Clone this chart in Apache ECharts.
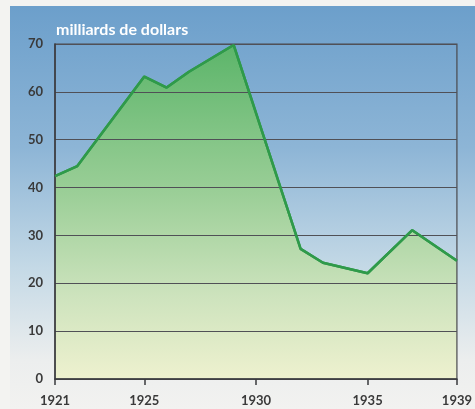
<!DOCTYPE html>
<html>
<head>
<meta charset="utf-8">
<script src="https://cdn.jsdelivr.net/npm/echarts@6/dist/echarts.min.js"></script>
<style>
  html, body { margin: 0; padding: 0; background: #f3f3f1; }
  #chart { width: 475px; height: 409px; }
</style>
</head>
<body>
<div id="chart"></div>
<script>
// valeurs (milliards de dollars)
var years = [1921, 1922, 1925, 1926, 1927, 1929, 1932, 1933, 1935, 1937, 1939]
var values = [42.4, 44.5, 63.2, 60.9, 64.2, 69.8, 27.2, 24.3, 22.1, 31.1, 24.7]
var yearTicks = [1921, 1925, 1930, 1935, 1939]
var unitLabel = 'milliards de dollars'

var chart = echarts.init(document.getElementById('chart'))

var points = years.map(function (y, i) {
  return [y, values[i]]
})

chart.setOption({
  animation: false,
  backgroundColor: '#f3f3f1',
  graphic: [{
    type: 'rect',
    z: -10,
    shape: { x: 10, y: 6, width: 465, height: 403 },
    style: {
      fill: new echarts.graphic.LinearGradient(0, 0, 0, 1, [
        { offset: 0, color: '#6c9fcb' },
        { offset: 0.35, color: '#8db5d6' },
        { offset: 0.65, color: '#c4d9e6' },
        { offset: 0.88, color: '#eceeee' },
        { offset: 1, color: '#f2f2f0' }
      ])
    }
  }],
  title: {
    text: unitLabel,
    left: 51,
    top: 17,
    textStyle: {
      color: '#ffffff',
      fontFamily: 'Lato',
      fontWeight: 'bold',
      fontSize: 16
    }
  },
  grid: {
    left: 55,
    right: 15,
    top: 44,
    bottom: 30,
    show: true,
    z: 4,
    borderColor: '#4a4a4e',
    borderWidth: 1.2
  },
  xAxis: {
    type: 'value',
    min: 1921,
    max: 1939,
    z: 5,
    axisLine: { show: true, lineStyle: { color: '#3a3a3e', width: 1.5 } },
    axisTick: {
      show: true,
      customValues: yearTicks,
      length: 6,
      lineStyle: { color: '#3a3a3e', width: 1.5 }
    },
    axisLabel: {
      customValues: yearTicks,
      margin: 15,
      color: '#3a3a3a',
      fontFamily: 'Lato',
      fontWeight: 'bold',
      fontSize: 13,
      formatter: function (v) { return String(v) }
    },
    splitLine: { show: false }
  },
  yAxis: {
    type: 'value',
    min: 0,
    max: 70,
    interval: 10,
    z: 5,
    axisLine: { show: true, lineStyle: { color: '#3a3a3e', width: 1.5 } },
    axisTick: { show: false },
    axisLabel: {
      margin: 12,
      color: '#3a3a3a',
      fontFamily: 'Lato',
      fontWeight: 'bold',
      fontSize: 13
    },
    splitLine: { show: true, lineStyle: { color: '#505056', width: 1.2 } }
  },
  series: [{
    type: 'line',
    data: points,
    symbol: 'none',
    z: 2,
    lineStyle: { color: '#2f9a4a', width: 2.5 },
    areaStyle: {
      origin: 'start',
      opacity: 1,
      color: new echarts.graphic.LinearGradient(0, 0, 0, 1, [
        { offset: 0, color: '#5cb56a' },
        { offset: 0.45, color: '#9ccf98' },
        { offset: 0.75, color: '#cde3bd' },
        { offset: 1, color: '#eef1cf' }
      ])
    }
  }, {
    // trait vert repassé au-dessus du quadrillage
    type: 'line',
    data: points,
    symbol: 'none',
    z: 10,
    silent: true,
    lineStyle: { color: '#2f9a4a', width: 2.5 }
  }]
})
</script>
</body>
</html>
